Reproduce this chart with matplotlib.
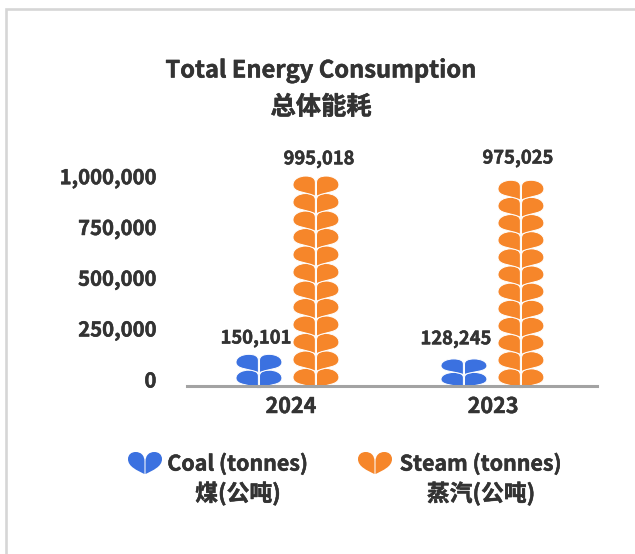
import matplotlib
matplotlib.use("Agg")
import matplotlib.pyplot as plt
import matplotlib.patheffects as pe
import numpy as np
from matplotlib.patches import PathPatch
from matplotlib.path import Path
from matplotlib.transforms import Affine2D

plt.rcParams["font.family"] = ["Noto Sans CJK SC", "DejaVu Sans"]

years = ["2024", "2023"]
coal = [150101, 128245]
steam = [995018, 975025]
value_ticks = [0, 250000, 500000, 750000, 1000000]
tick_labels = ["0", "250,000", "500,000", "750,000", "1,000,000"]

COAL_COLOR = "#3b71e0"
STEAM_COLOR = "#f6862a"
TEXT_COLOR = "#333333"
ROW_VALUE = 250000 / 3  # one leaf pair stands for this much
PX_PER_MILLION = 211

W, H = 635, 554
fig = plt.figure(figsize=(W / 100, H / 100), dpi=100)

# card frame: only the top and left edges are in the picture
overlay = fig.add_axes([0, 0, 1, 1], zorder=0)
overlay.set_xlim(0, W)
overlay.set_ylim(H, 0)
overlay.axis("off")
overlay.plot([6, 6, W], [H, 9, 9], color="#d6d6d6", lw=1.9, solid_joinstyle="miter")

# plot area: 187..597 px wide, baseline at y=386
ax = fig.add_axes([187 / W, (H - 386) / H, 410 / W, 230 / H], zorder=1)
ax.patch.set_alpha(0)
ax.set_xlim(-0.49, 1.51)
ax.set_ylim(0, 230 / PX_PER_MILLION * 1e6)

heavy = [pe.withStroke(linewidth=0.35, foreground=TEXT_COLOR)]


def leaf_path():
    # one pair of leaves in a box x -1..1, y 0..1
    left = [(-0.025, -0.16), (-0.4, 0.12), (-1.0, 0.02), (-1.0, 0.5),
            (-1.0, 0.82), (-0.72, 1.0), (-0.45, 1.0),
            (-0.2, 1.0), (-0.025, 0.9), (-0.025, 0.62), (-0.025, -0.16)]
    codes = [Path.MOVETO] + [Path.CURVE4] * 9 + [Path.CLOSEPOLY]
    verts = left + [(-x, y) for x, y in left]
    return Path(verts, codes + codes)


LEAF = leaf_path()


def draw_stack(x, value, color):
    rows = int(np.ceil(value / ROW_VALUE))
    h = value / rows
    half = 0.112
    for i in range(rows):
        tr = Affine2D().scale(half, h).translate(x, i * h) + ax.transData
        ax.add_patch(PathPatch(LEAF, fc=color, ec="white", lw=0.7,
                               transform=tr, zorder=2 + i * 0.01, clip_on=False))


bar_shift = 0.139
# label nudges in points
coal_label_dx = [-2.2, -5.8]
steam_label_dx = [2.2, -2.2]
coal_label_dy = [11.6, 14.4]
steam_label_dy = [12.3, 15.9]
for i in range(len(years)):
    draw_stack(i - bar_shift, coal[i], COAL_COLOR)
    draw_stack(i + bar_shift, steam[i], STEAM_COLOR)
    ax.annotate(f"{coal[i]:,}", (i - bar_shift, coal[i]), xytext=(coal_label_dx[i], coal_label_dy[i]),
                textcoords="offset points", ha="center", va="center",
                fontsize=13.2, fontweight="bold", color=TEXT_COLOR, path_effects=heavy)
    ax.annotate(f"{steam[i]:,}", (i + bar_shift, steam[i]), xytext=(steam_label_dx[i], steam_label_dy[i]),
                textcoords="offset points", ha="center", va="center",
                fontsize=13.2, fontweight="bold", color=TEXT_COLOR, path_effects=heavy)

for s in ["top", "right", "left"]:
    ax.spines[s].set_visible(False)
ax.spines["bottom"].set_color("#a3a3a3")
ax.spines["bottom"].set_linewidth(2.2)
ax.spines["bottom"].set_zorder(5)

ax.set_xticks([0.017, 1.003], years)
ax.tick_params(axis="x", length=0, pad=7.2, labelsize=15.5, labelcolor=TEXT_COLOR)
for t in ax.get_xticklabels():
    t.set_fontweight("bold")
    t.set_path_effects(heavy)

# the y labels run a little tighter than the symbols: 203 px per million, 6 px up
label_pos = [(v * 203 / 1e6 + 7) / PX_PER_MILLION * 1e6 for v in value_ticks]
ax.set_yticks(label_pos, tick_labels)
ax.tick_params(axis="y", length=0, pad=22, labelcolor=TEXT_COLOR)
for t in ax.get_yticklabels():
    t.set_fontweight("bold")
    t.set_fontsize(14.6)
    t.set_path_effects(heavy)

overlay.text(321, 70.5, "Total Energy Consumption", ha="center", va="center",
             fontsize=17.05, fontweight="bold", color=TEXT_COLOR, path_effects=heavy)
overlay.text(321, 107, "总体能耗", ha="center", va="center",
             fontsize=18.2, fontweight="bold", color=TEXT_COLOR, path_effects=heavy)


def legend_icon(cx, cy, color):
    # same leaf shape, turned up into a heart
    tr = Affine2D().scale(17, -21).translate(cx, cy + 11) + overlay.transData
    verts = [(-0.03, -0.05), (-0.45, 0.12), (-1.0, 0.3), (-1.0, 0.66),
             (-1.0, 0.88), (-0.8, 1.0), (-0.55, 1.0),
             (-0.25, 1.0), (-0.03, 0.85), (-0.03, 0.55), (-0.03, -0.05)]
    codes = [Path.MOVETO] + [Path.CURVE4] * 9 + [Path.CLOSEPOLY]
    p = Path(verts + [(-x, y) for x, y in verts], codes + codes)
    overlay.add_patch(PathPatch(p, fc=color, ec="none", transform=tr))


legend_icon(145, 462, COAL_COLOR)
legend_icon(375, 462, STEAM_COLOR)
overlay.text(238, 464, "Coal (tonnes)", ha="center", va="center",
             fontsize=15.4, fontweight="bold", color=TEXT_COLOR, path_effects=heavy)
overlay.text(238, 494, "煤(公吨)", ha="center", va="center",
             fontsize=16.4, fontweight="bold", color=TEXT_COLOR, path_effects=heavy)
overlay.text(481, 464, "Steam (tonnes)", ha="center", va="center",
             fontsize=15.4, fontweight="bold", color=TEXT_COLOR, path_effects=heavy)
overlay.text(481, 494, "蒸汽(公吨)", ha="center", va="center",
             fontsize=16.4, fontweight="bold", color=TEXT_COLOR, path_effects=heavy)

fig.savefig("out.png", dpi=100, facecolor="white")
